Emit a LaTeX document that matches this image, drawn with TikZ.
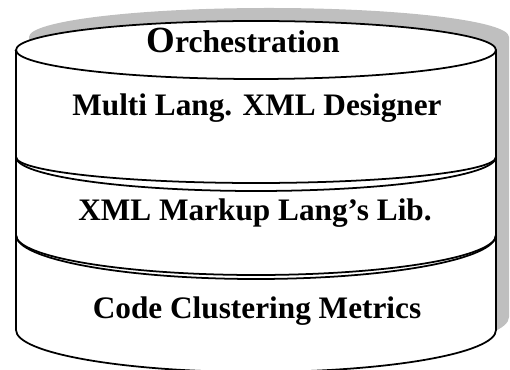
\documentclass[tikz,border=0pt]{standalone}
\usepackage{fontspec}
\setmainfont{Liberation Serif}
\usepackage{tikz}
\definecolor{shadowgray}{rgb}{0.75,0.75,0.75}
\tikzset{layer/.style={font=\bfseries\fontsize{17.8}{20}\selectfont, anchor=base}}

\begin{document}
\begin{tikzpicture}[line width=1pt]
\useasboundingbox (0,0) rectangle (10.2,-7.4);
\clip (0,0) rectangle (10.2,-7.4);

% shadow
\fill[shadowgray] (0.58,-0.74) -- (0.58,-6.34) arc (180:360:4.8cm and 0.84cm) -- (10.18,-0.74) arc (0:180:4.8cm and 0.58cm) -- cycle;

% cylinder
\draw[fill=white] (0.32,-1) -- (0.32,-6.6) arc (180:360:4.8cm and 0.84cm) -- (9.92,-1) arc (0:180:4.8cm and 0.58cm) -- cycle;
\draw (0.32,-1) arc (180:360:4.8cm and 0.58cm);
\draw (0.32,-3.14) arc (180:360:4.8cm and 0.52cm);
\draw (0.32,-3.14) arc (180:360:4.8cm and 0.68cm);
\draw (0.32,-4.7) arc (180:360:4.8cm and 0.8cm);
\draw (0.32,-4.7) arc (180:360:4.8cm and 0.88cm);

\node[layer] (orch) at (4.86,-1.06) {{\fontsize{21}{24}\selectfont O}\fontsize{18}{20}\selectfont rchestration};
\node[layer] (designer) at (5.14,-2.32) {Multi Lang. XML Designer};
\node[layer] (markup) at (5.1,-4.42) {XML Markup Lang’s Lib.};
\node[layer] (metrics) at (5.14,-6.36) {Code Clustering Metrics};
\end{tikzpicture}
\end{document}
